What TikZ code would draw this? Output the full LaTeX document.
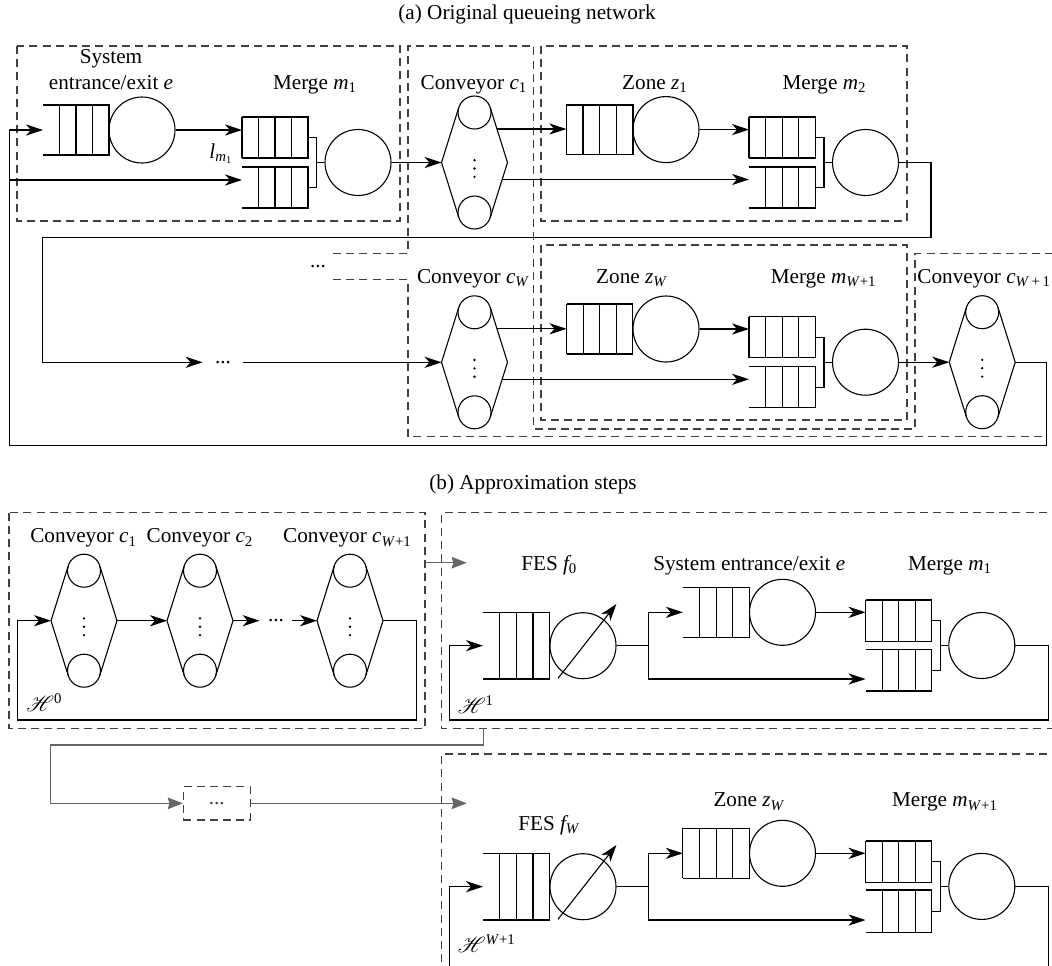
\documentclass[tikz,border=0pt]{standalone}
\usepackage{fontspec}
\setmainfont{Liberation Serif}
\usepackage{mathrsfs}
\usetikzlibrary{arrows.meta,calc}
\newcommand\sv[2]{\textit{#1}\textsubscript{#2}}
\newcommand\fv[1]{\textit{f}\kern-1.4pt\textsubscript{#1}}
\newcommand\hsc[1]{$\mathscr{H}$\textsuperscript{#1}}
\tikzset{
  every node/.style={font=\fontsize{10.6}{13}\selectfont},
  ln/.style={line width=0.55pt, black},
  arr/.style={ln, -{Stealth[length=8.5pt,width=5.6pt,inset=2.5pt]}},
  garr/.style={line width=0.55pt, draw=black!60, -{Stealth[length=7.5pt,width=5.8pt,inset=0.8pt,fill=black!60]}},
  dsh/.style={line width=0.55pt, black!75, dash pattern=on 4pt off 2.6pt},
  server/.style={circle, draw, line width=0.55pt, minimum size=33pt, inner sep=0pt},
  roller/.style={circle, draw, line width=0.55pt, minimum size=16.5pt, inner sep=0pt},
  qbox/.style={draw=none, inner sep=0pt, outer sep=0pt, rectangle},
  lab/.style={anchor=base, inner sep=0pt},
  dot/.style={circle, fill=black, inner sep=0pt, minimum size=1.3pt},
}
% queue: name, x-left, x-right, y-top, y-bottom, closed (1) / open (0)
\newcommand\queue[6]{%
  \node[qbox, minimum width={(#3-#2)*0.5pt}, minimum height={(#5-#4)*0.5pt}] (#1) at ({(#2+#3)/2},{(#4+#5)/2}) {};
  \draw[ln] (#1.north west) -- (#1.north east) -- (#1.south east) -- (#1.south west)
    ($(#1.north west)!.25!(#1.north east)$) -- ($(#1.south west)!.25!(#1.south east)$)
    ($(#1.north west)!.5!(#1.north east)$) -- ($(#1.south west)!.5!(#1.south east)$)
    ($(#1.north west)!.75!(#1.north east)$) -- ($(#1.south west)!.75!(#1.south east)$);
  \ifnum#6=1 \draw[ln] (#1.north west) -- (#1.south west);\fi
}
% conveyor: name, centre x, centre y
\newcommand\conveyor[3]{%
  \coordinate (#1-l) at ({#2-33},{#3});
  \coordinate (#1-r) at ({#2+33},{#3});
  \node[roller] (#1-t) at ({#2},{#3-50}) {};
  \node[roller] (#1-b) at ({#2},{#3+50}) {};
  \draw[ln] ({#2-15.74},{#3-54.93}) -- (#1-l) -- ({#2-15.74},{#3+54.93})
            ({#2+15.74},{#3-54.93}) -- (#1-r) -- ({#2+15.74},{#3+54.93});
  \node[dot] (#1-d1) at ({#2},{#3-2.3}) {};
  \node[dot] (#1-d2) at ({#2},{#3+6}) {};
  \node[dot] (#1-d3) at ({#2},{#3+14.4}) {};
  \coordinate (#1-o1) at ({#2+22.5},{#3-33.5});
  \coordinate (#1-o2) at ({#2+27.7},{#3+17});
}
% merge bracket: upper queue, lower queue, server
\newcommand\mbr[3]{%
  \coordinate (#3-k) at ($(#1.east)+(8.5,0)$);
  \draw[ln] (#1.east) -- (#3-k) |- (#2.east);
  \draw[ln] (#3-k |- #3.west) -- (#3.west);
}
\begin{document}
\begin{tikzpicture}[x=0.5pt,y=-0.5pt]
\useasboundingbox (0,0) rectangle (1052,965);

% ================= (a) =================
\node[lab] (ta) at (527,19.5) {(a) Original queueing network};

\draw[dsh] (17,46) rectangle (400,221);
\draw[dsh] (541,46) rectangle (907,221);
\draw[dsh] (541,245) rectangle (907,420);
\draw[dsh] (333,253.3) -- (408,253.3) -- (408,46) -- (533.5,46) -- (533.5,429) -- (915,429) -- (915,253.3) -- (1060,253.3);
\draw[dsh] (333,279.3) -- (408,279.3) -- (408,436.5) -- (1046.5,436.5);
\node[inner sep=0pt] (dd) at (318,267) {...};

\node[lab] (le1) at (111,63.5) {System};
\node[lab] (le2) at (111,89.5) {entrance/exit \textit{e}};
\node[lab] (lm1) at (315,89.5) {Merge \sv{m}{1}};
\node[lab] (lc1) at (474,89.5) {Conveyor \sv{c}{1}};
\node[lab] (lz1) at (655,89.5) {Zone \sv{z}{1}};
\node[lab] (lm2) at (824.5,89.5) {Merge \sv{m}{2}};
\node[lab] (lcW) at (473.5,283.5) {Conveyor \sv{c}{\textit{W}}};
\node[lab] (lzW) at (632,283.5) {Zone \sv{z}{\textit{W}}};
\node[lab] (lmW) at (823.7,283.5) {Merge \sv{m}{\textit{W}+1}};
\node[lab,anchor=base west] (lcX) at (917,283.5) {Conveyor \sv{c}{\textit{W}\,+\,1}};
\node[lab,anchor=base west] (llm) at (209,158.3) {\sv{l}{\sv{m}{1}}};

\queue{qe}{43}{109}{105}{155}{0}
\node[server] (se) at (142,130) {};
\queue{qm1u}{242}{308}{117}{158}{1}
\queue{qm1l}{242}{308}{167}{208}{0}
\node[server] (sm1) at (358,162.5) {};
\mbr{qm1u}{qm1l}{sm1}
\conveyor{c1}{474.5}{162.5}
\queue{qz1}{566.3}{633}{105}{154.3}{1}
\node[server] (sz1) at (666,129.6) {};
\queue{qm2u}{749}{815.5}{117}{158}{1}
\queue{qm2l}{749}{815.5}{167}{208}{0}
\node[server] (sm2) at (865.5,162.5) {};
\mbr{qm2u}{qm2l}{sm2}

\draw[arr] (se.east) -- (se.east -| qm1u.west);
\draw[arr] (sm1.east) -- (c1-l);
\draw[arr] (c1-o1) -- (c1-o1 -| qz1.west);
\draw[arr] (c1-o2) -- (c1-o2 -| qm2l.west);
\draw[arr] (sz1.east) -- (sz1.east -| qm2u.west);

\conveyor{cW}{474.5}{362.3}
\queue{qzW}{566.5}{632.7}{304}{354}{1}
\node[server] (szW) at (666,329) {};
\queue{qmWu}{749}{815.5}{316.7}{357.7}{1}
\queue{qmWl}{749}{815.5}{366.7}{407.7}{0}
\node[server] (smW) at (865.5,362.2) {};
\mbr{qmWu}{qmWl}{smW}
\conveyor{cX}{982.2}{362.2}

\draw[arr] (cW-o1) -- (cW-o1 -| qzW.west);
\draw[arr] (cW-o2) -- (cW-o2 -| qmWl.west);
\draw[arr] (szW.east) -- (szW.east -| qmWu.west);
\draw[arr] (smW.east) -- (cX-l);

\coordinate (RR) at (1046.5,445.7);
\coordinate (LL) at (9.5,445.7);
\coordinate (j1) at (9.5,180);
\draw[arr] (cX-r) -| (RR) -- (LL) |- (qe.west);
\draw[arr] (j1) -- (j1 -| qm1l.west);
\coordinate (TR) at (931,237.3);
\coordinate (TL) at (42.4,237.3);
\node[inner sep=0pt, minimum width=20pt] (dA) at (223,362.3) {...};
\draw[arr] (sm2.east) -| (TR) -- (TL) |- (dA.west);
\draw[arr] (dA.east) -- (cW-l);

% ================= (b) =================
\node[lab] (tb) at (533,489.3) {(b) Approximation steps};

% H^0
\draw[dsh] (9,512.7) rectangle (425,728.3);
\node[lab] (lp1) at (83.7,542.7) {Conveyor \sv{c}{1}};
\node[lab] (lp2) at (200,542.7) {Conveyor \sv{c}{2}};
\node[lab] (lpW) at (347.5,542.7) {Conveyor \sv{c}{\textit{W}+1}};
\conveyor{p1}{84}{620.7}
\conveyor{p2}{200}{620.7}
\conveyor{pW}{350}{620.7}
\node[inner sep=0pt, minimum width=16pt] (dB) at (276,620.7) {...};
\draw[arr] (p1-r) -- (p2-l);
\draw[arr] (p2-r) -- (dB.west);
\draw[arr] (dB.east) -- (pW-l);
\coordinate (h0r) at (416.7,720);
\coordinate (h0l) at (17.3,720);
\draw[arr] (pW-r) -| (h0r) -- (h0l) |- (p1-l);
\node[lab,anchor=base west] (lh0) at (26,711.7) {\hsc{0}};
\coordinate (g1s) at (425,562.7);
\coordinate (g1e) at (466.7,562.7);
\draw[garr] (g1s) -- (g1e);

% H^1
\draw[dsh] (1060,512.7) -- (441.7,512.7) -- (441.7,728.3) -- (1060,728.3);
\node[lab] (lf0) at (549.3,570) {FES \fv{0}};
\node[lab] (lbe) at (749.3,570) {System entrance/exit \textit{e}};
\node[lab] (lbm1) at (950,570.5) {Merge \sv{m}{1}};
\queue{qf0}{483}{549.7}{612.3}{679}{0}
\node[server] (sf0) at (583,645.7) {};
\draw[arr] ($(sf0.center)+(-25,32.6)$) -- ($(sf0.center)+(33.4,-41.7)$);
\queue{qbe}{682.8}{749.5}{587.3}{637.3}{0}
\node[server] (sbe) at (782.5,612.3) {};
\queue{qbm1u}{865.5}{931.8}{600}{641.7}{1}
\queue{qbm1l}{865.5}{931.8}{649.3}{691}{0}
\node[server] (sbm1) at (981.8,645.5) {};
\mbr{qbm1u}{qbm1l}{sbm1}
\coordinate (s1) at (648.8,645.7);
\coordinate (a1) at (648.8,679);
\draw[ln] (sf0.east) -- (s1);
\draw[arr] (s1) |- (qbe.west);
\draw[arr] (s1) -- (a1) -- (a1 -| qbm1l.west);
\draw[arr] (sbe.east) -- (sbe.east -| qbm1u.west);
\coordinate (h1r) at (1048.3,720);
\coordinate (h1l) at (449.5,720);
\draw[arr] (sbm1.east) -| (h1r) -- (h1l) |- (qf0.west);
\node[lab,anchor=base west] (lh1) at (457.5,713) {\hsc{1}};

% link to H^{W+1}
\coordinate (d1) at (483.3,728.3);
\coordinate (d3) at (50.7,745);
\node[dsh, draw, inner sep=0pt, minimum width=33.35pt, minimum height=16.65pt] (dbox) at (216.7,803.3) {...};
\draw[garr] (d1) |- (d3) |- (dbox.west);
\coordinate (g2e) at (466.7,803.3);
\draw[garr] (dbox.east) -- (g2e);

% H^{W+1}
\draw[dsh] (1060,754) -- (441.7,754) -- (441.7,975);
\node[lab] (lfW) at (549.3,830) {FES \fv{\textit{W}}};
\node[lab] (lbz) at (749.3,806.7) {Zone \sv{z}{\textit{W}}};
\node[lab] (lbmW) at (945,806.7) {Merge \sv{m}{\textit{W}+1}};
\queue{qfW}{483}{549.7}{853.3}{920}{0}
\node[server] (sfW) at (583,886.7) {};
\draw[arr] ($(sfW.center)+(-25,32.6)$) -- ($(sfW.center)+(33.4,-41.7)$);
\queue{qbz}{682.8}{749.5}{828.3}{878.3}{1}
\node[server] (sbz) at (782.5,853.3) {};
\queue{qbmWu}{865.5}{931.8}{841}{882.7}{1}
\queue{qbmWl}{865.5}{931.8}{890}{932.7}{0}
\node[server] (sbmW) at (981.8,886.4) {};
\mbr{qbmWu}{qbmWl}{sbmW}
\coordinate (s2) at (648.8,886.7);
\coordinate (a2) at (648.8,920);
\draw[ln] (sfW.east) -- (s2);
\draw[arr] (s2) |- (qbz.west);
\draw[arr] (s2) -- (a2) -- (a2 -| qbmWl.west);
\draw[arr] (sbz.east) -- (sbz.east -| qbmWu.west);
\coordinate (h2r) at (1048.3,972);
\coordinate (h2l) at (449.8,972);
\draw[arr] (sbmW.east) -| (h2r) -- (h2l) |- (qfW.west);
\node[lab,anchor=base west] (lh2) at (457.5,952.7) {\hsc{\textit{W}+1}};
\end{tikzpicture}
\end{document}
